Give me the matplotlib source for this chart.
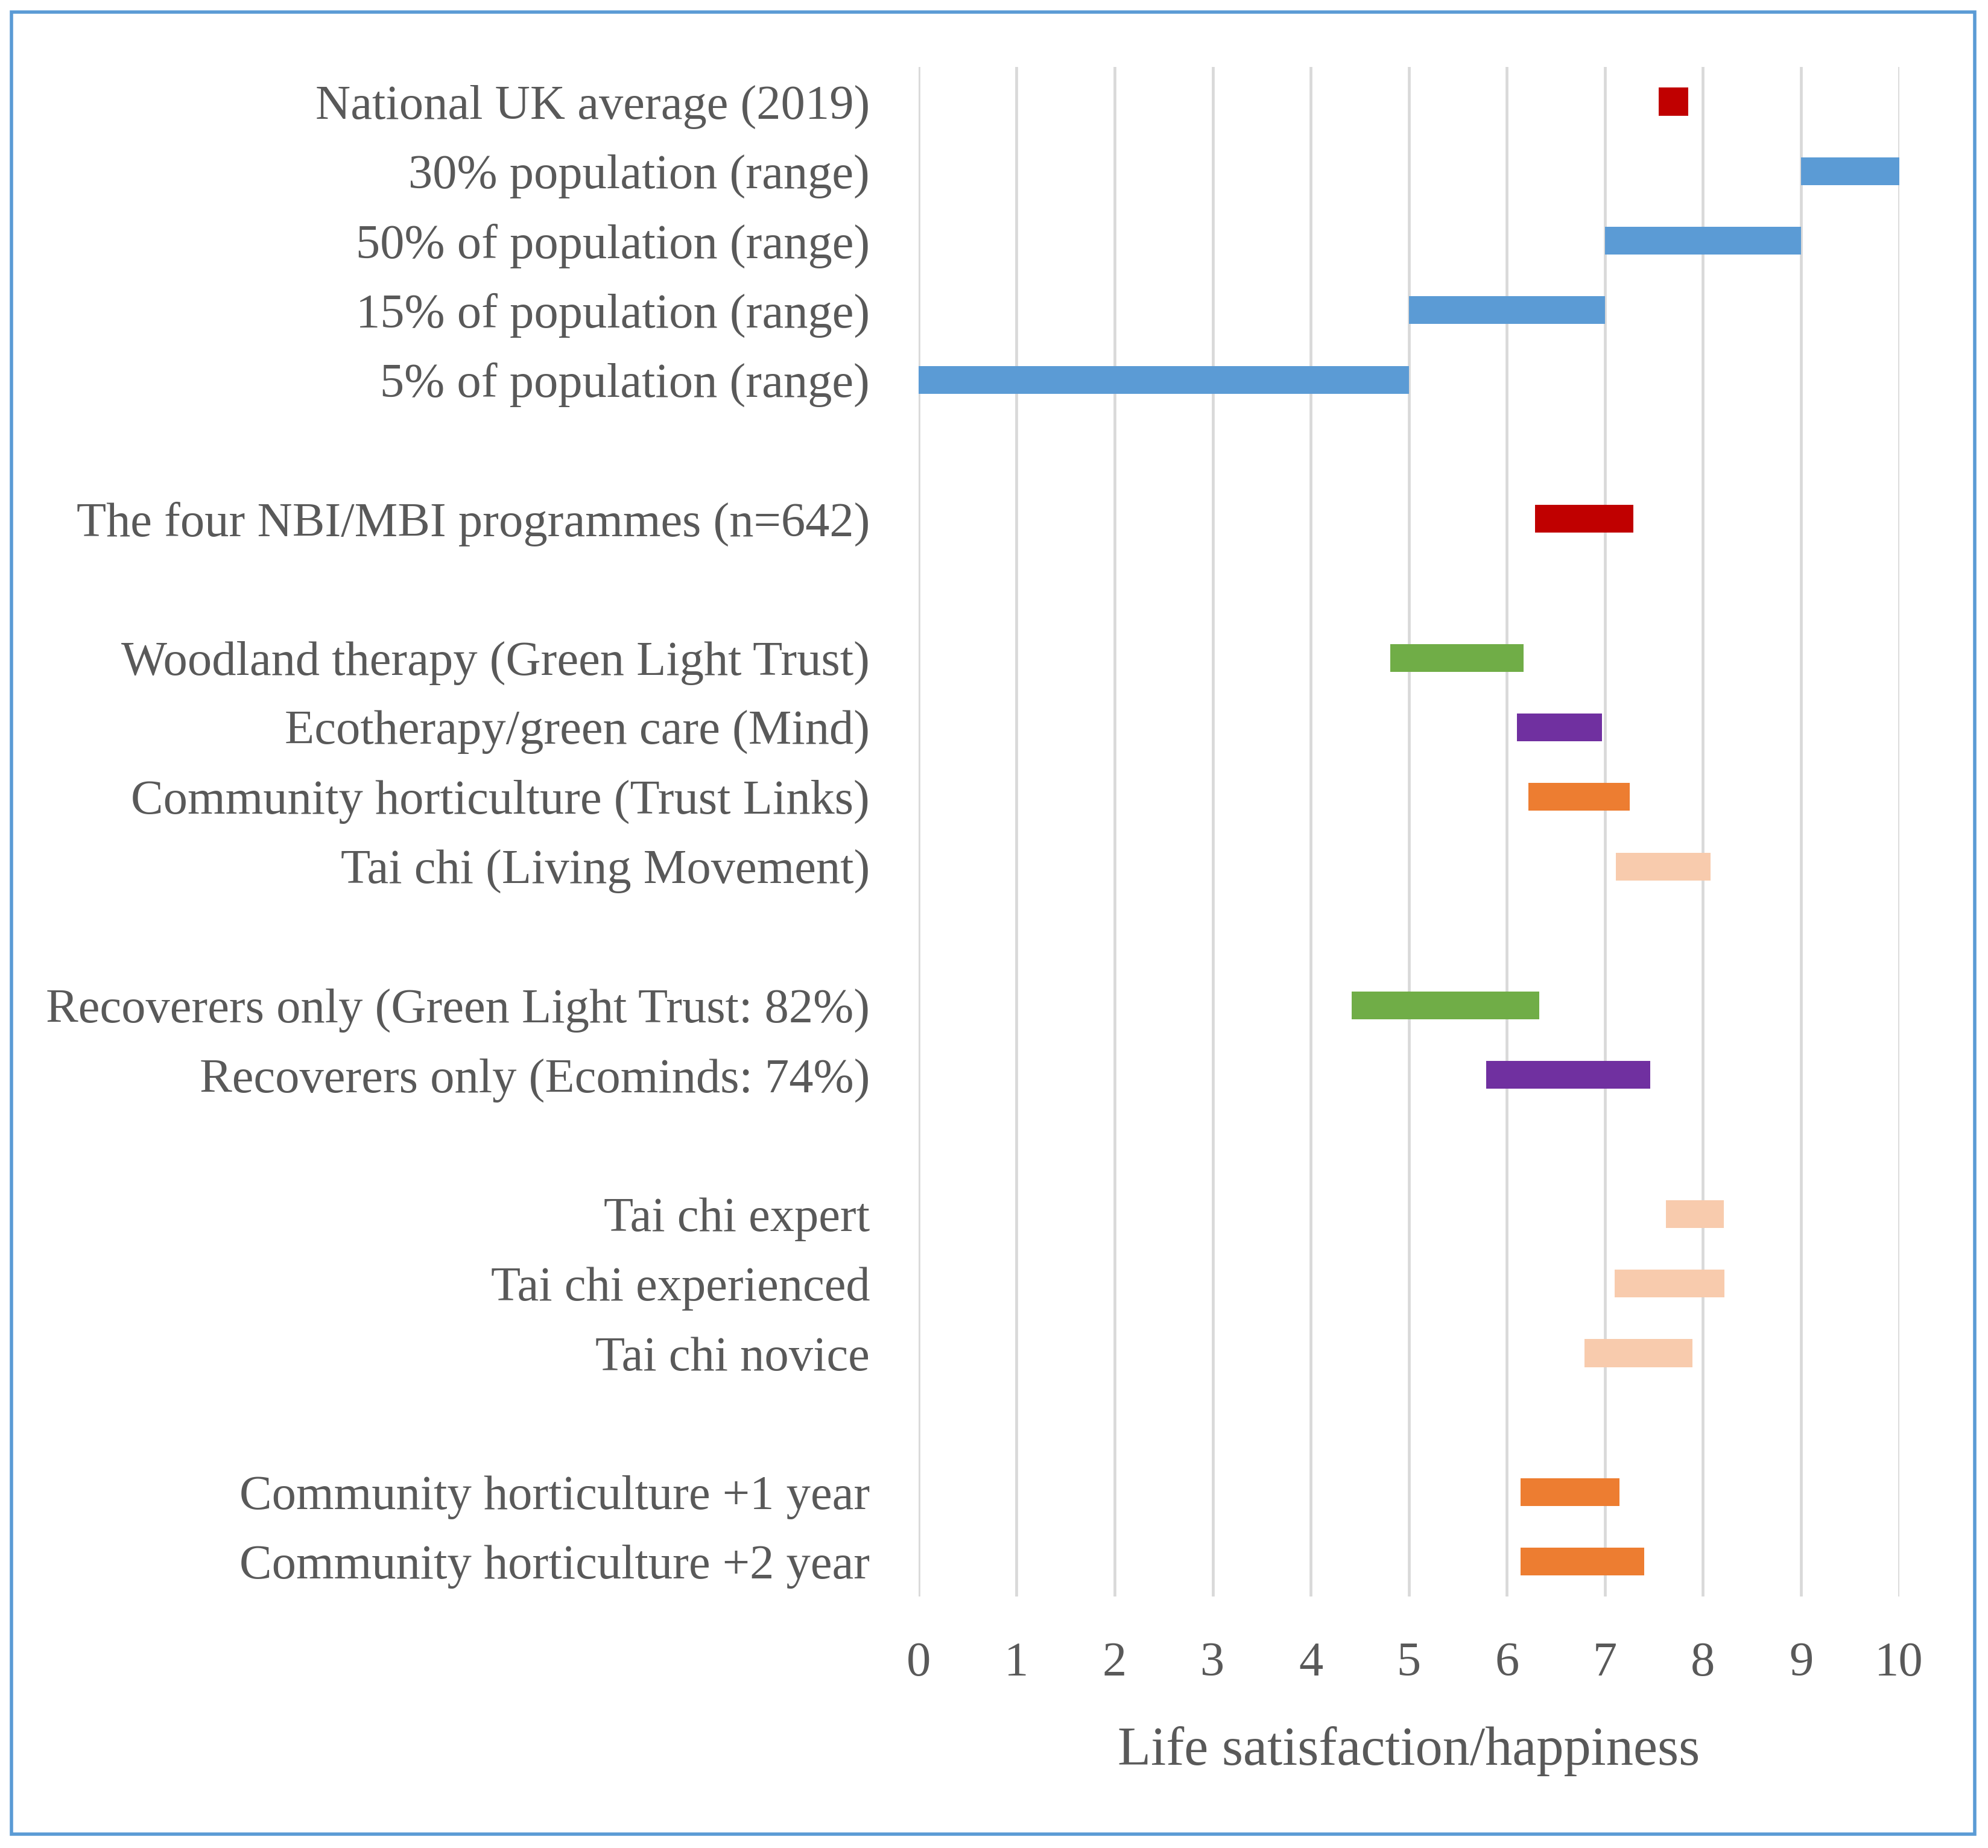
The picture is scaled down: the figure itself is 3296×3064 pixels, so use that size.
import matplotlib as mp
mp.use('Agg')
import matplotlib.pyplot as plt
import matplotlib.patches as pat
import numpy as np

# rows from top to bottom, '' = blank spacer row
labels = ['National UK average (2019)', '30% population (range)',
          '50% of population (range)', '15% of population (range)',
          '5% of population (range)', '',
          'The four NBI/MBI programmes (n=642)', '',
          'Woodland therapy (Green Light Trust)', 'Ecotherapy/green care (Mind)',
          'Community horticulture (Trust Links)', 'Tai chi (Living Movement)', '',
          'Recoverers only (Green Light Trust: 82%)', 'Recoverers only (Ecominds: 74%)', '',
          'Tai chi expert', 'Tai chi experienced', 'Tai chi novice', '',
          'Community horticulture +1 year', 'Community horticulture +2 year']

low = [7.55, 9, 7, 5, 0, None, 6.29, None, 4.81, 6.10, 6.22, 7.11, None,
       4.42, 5.79, None, 7.62, 7.10, 6.79, None, 6.14, 6.14]
high = [7.85, 10, 9, 7, 5, None, 7.29, None, 6.17, 6.97, 7.25, 8.08, None,
        6.33, 7.46, None, 8.21, 8.22, 7.89, None, 7.15, 7.40]

BLUE, RED, GREEN, PURPLE, ORANGE, PEACH = '#5B9BD5', '#C00000', '#70AD47', '#7030A0', '#ED7D31', '#F8CBAD'
colors = [RED, BLUE, BLUE, BLUE, BLUE, None, RED, None, GREEN, PURPLE, ORANGE, PEACH, None,
          GREEN, PURPLE, None, PEACH, PEACH, PEACH, None, ORANGE, ORANGE]

xticks = list(range(0, 11))
xlabel = 'Life satisfaction/happiness'

TXT = '#595959'
plt.rcParams['font.family'] = ['Liberation Serif', 'DejaVu Serif']

fig = plt.figure(figsize=(16.48, 15.32), dpi=200)
ax = fig.add_axes([0.462, 0.1361, 0.9553 - 0.462, 0.9638 - 0.1361])

rows = [i for i in range(len(labels)) if low[i] is not None]
ax.barh(rows,
        [high[i] - low[i] for i in rows],
        left=[low[i] for i in rows],
        height=0.4,
        color=[colors[i] for i in rows], zorder=3)

ax.set_ylim(len(labels) - 0.5, -0.5)
ax.set_yticks(range(len(labels)))
ax.set_yticklabels(labels)
ax.set_xlim(0, 10)
ax.set_xticks(xticks)
ax.tick_params(axis='y', length=0, pad=29, labelsize=29, labelcolor=TXT)
ax.tick_params(axis='x', length=0, pad=27, labelsize=29, labelcolor=TXT)
ax.xaxis.grid(True, color='#D9D9D9', lw=1.7, zorder=0)
ax.set_axisbelow(True)
for s in ax.spines.values():
    s.set_visible(False)
ax.set_xlabel(xlabel, fontsize=32.5, color=TXT, labelpad=24)

# outer chart border
fig.patches.append(pat.Rectangle((19 / 3296, 1 - 3041 / 3064), (3274 - 19) / 3296, (3041 - 20) / 3064,
                                 transform=fig.transFigure, fill=False,
                                 edgecolor='#5B9BD5', lw=2))

fig.savefig('out.png', dpi=200, facecolor='white')
